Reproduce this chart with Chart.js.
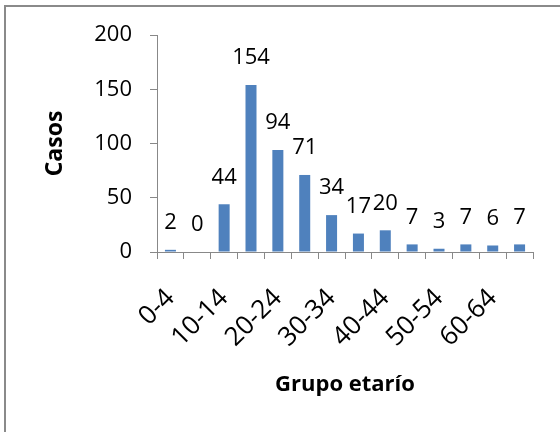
<!DOCTYPE html>
<html>
<head>
<meta charset="utf-8">
<script src="https://cdn.jsdelivr.net/npm/chart.js@4/dist/chart.umd.min.js"></script>
<style>
  html, body { margin: 0; padding: 0; background: #fff; }
  canvas { display: block; }
</style>
</head>
<body>
<canvas id="c" width="560" height="432"></canvas>
<script>
// Casos por grupo etario
const grupos = ['0-4', '5-9', '10-14', '15-19', '20-24', '25-29', '30-34',
                '35-39', '40-44', '45-49', '50-54', '55-59', '60-64', '65 y más'];
const casos = [2, 0, 44, 154, 94, 71, 34, 17, 20, 7, 3, 7, 6, 7];
const yTicks = [0, 50, 100, 150, 200];

const FONT = '"Open Sans", "Liberation Sans", sans-serif';
const AXIS_GRAY = '#888888';

// White background and the grey frame along the top and left edges
const framePlugin = {
  id: 'frame',
  beforeDraw(chart) {
    const ctx = chart.ctx;
    ctx.save();
    ctx.fillStyle = '#ffffff';
    ctx.fillRect(0, 0, chart.width, chart.height);
    ctx.fillStyle = '#8a8a8a';
    ctx.fillRect(4, 5, chart.width - 4, 2);
    ctx.fillRect(4, 5, 2, chart.height - 5);
    ctx.restore();
  }
};

// Value labels above each bar
const valueLabels = {
  id: 'valueLabels',
  afterDatasetsDraw(chart) {
    const ctx = chart.ctx;
    const meta = chart.getDatasetMeta(0);
    const data = chart.data.datasets[0].data;
    ctx.save();
    ctx.font = '22px ' + FONT;
    ctx.fillStyle = '#000';
    ctx.textAlign = 'center';
    ctx.textBaseline = 'middle';
    meta.data.forEach((bar, i) => {
      ctx.fillText(String(data[i]), bar.x, bar.y - 27);
    });
    ctx.restore();
  }
};

new Chart(document.getElementById('c'), {
  type: 'bar',
  data: {
    labels: grupos,
    datasets: [{
      data: casos,
      backgroundColor: '#4F81BD',
      borderWidth: 0,
      categoryPercentage: 1.0,
      barPercentage: 0.41
    }]
  },
  options: {
    responsive: false,
    animation: false,
    events: [],
    layout: { padding: { left: 0, top: 35, right: 27, bottom: 0 } },
    plugins: {
      legend: { display: false },
      tooltip: { enabled: false }
    },
    scales: {
      x: {
        grid: {
          offset: true,
          drawOnChartArea: false,
          drawTicks: true,
          tickLength: 7,
          color: AXIS_GRAY,
          lineWidth: 1
        },
        border: { display: true, color: AXIS_GRAY, width: 1 },
        ticks: {
          autoSkip: false,
          minRotation: 45,
          maxRotation: 45,
          padding: 24,
          color: '#000',
          font: { family: FONT, size: 26 },
          callback: function (v, i) {
            return i % 2 === 0 ? this.getLabelForValue(v) : '';
          }
        },
        title: {
          display: true,
          text: 'Grupo etarío',
          color: '#000',
          font: { family: FONT, size: 22, weight: 'bold' },
          padding: { top: 4, bottom: 34 }
        },
        afterFit(scale) {
          scale.height = 180;
          scale.paddingLeft = 0;
          scale.paddingRight = 0;
        }
      },
      y: {
        min: 0,
        max: 200,
        afterBuildTicks(scale) {
          scale.ticks = yTicks.map(v => ({ value: v }));
        },
        grid: {
          drawOnChartArea: false,
          drawTicks: true,
          tickLength: 7,
          color: AXIS_GRAY,
          lineWidth: 1
        },
        border: { display: true, color: AXIS_GRAY, width: 1 },
        ticks: {
          padding: 18,
          color: '#000',
          font: { family: FONT, size: 22 }
        },
        title: {
          display: true,
          text: 'Casos',
          color: '#000',
          font: { family: FONT, size: 23, weight: 'bold' },
          padding: { top: 42, bottom: 4 }
        },
        afterFit(scale) {
          scale.width = 157;
          scale.paddingTop = 0;
          scale.paddingBottom = 0;
        }
      }
    }
  },
  plugins: [framePlugin, valueLabels]
});
</script>
</body>
</html>
